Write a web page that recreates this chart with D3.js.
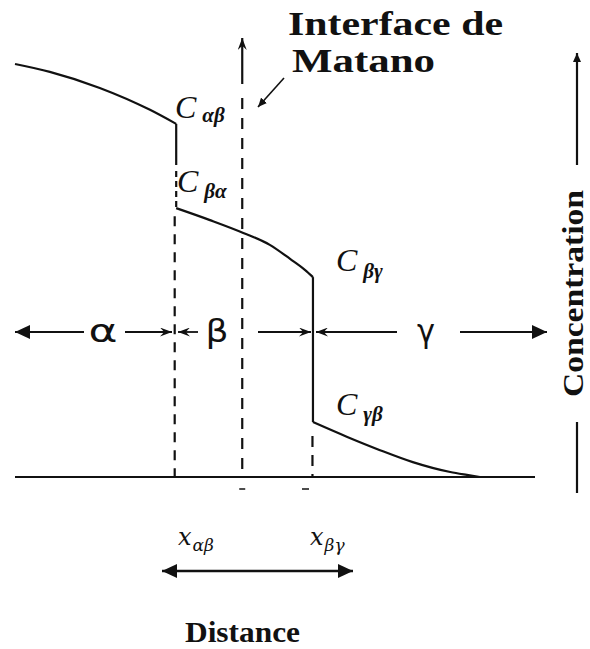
<!DOCTYPE html>
<html>
<head>
<meta charset="utf-8">
<script src="https://cdn.jsdelivr.net/npm/d3@7"></script>
<style>
  body { margin: 0; background: #fff; }
  svg { display: block; }
</style>
</head>
<body>
<svg id="chart" width="590" height="649"></svg>
<script>
// Concentration profile across the α / β / γ phases (distance on x, concentration on y)
const alphaX = [0, 6.7, 16.3, 25.96, 31];
const alphaC = [100, 98.1, 94.2, 88.9, 85.5];
const betaX = [31, 37.5, 43.9, 49, 52.9, 55.8, 57.3];
const betaC = [65.1, 62.2, 59.1, 56.2, 52.8, 50.1, 48.4];
const gammaX = [57.3, 63.9, 70.2, 76.5, 83.7, 86.9, 89.4];
const gammaC = [13.3, 9.7, 6.5, 3.6, 1.2, 0.5, 0];
const matanoX = 43.7;
const phaseNames = ["α", "β", "γ"];
const interfaceNames = ["x", "x"];
const interfaceSubs = ["αβ", "βγ"];

const svg = d3.select("#chart");
const ink = "#111";

const x = d3.scaleLinear().domain([0, 100]).range([15, 535]);
const y = d3.scaleLinear().domain([0, 100]).range([477, 64]);

const defs = svg.append("defs");
function marker(id, w, h, open) {
  const m = defs.append("marker")
    .attr("id", id)
    .attr("viewBox", `0 0 ${w} ${h}`)
    .attr("refX", w).attr("refY", h / 2)
    .attr("markerWidth", w).attr("markerHeight", h)
    .attr("markerUnits", "userSpaceOnUse")
    .attr("orient", "auto-start-reverse");
  const p = open
    ? `M0,0 L${w},${h / 2} L0,${h} L${w * 0.35},${h / 2} Z`
    : `M0,0 L${w},${h / 2} L0,${h} Z`;
  m.append("path").attr("d", p).attr("fill", ink);
}
marker("ah", 12, 9, true);
marker("ahBig", 15, 14, false);
marker("ahSmall", 9, 8, false);

const toPts = (xs, cs) => xs.map((v, i) => [x(v), y(cs[i])]);
const line = d3.line().curve(d3.curveMonotoneX);

const g = svg.append("g").attr("fill", "none").attr("stroke", ink).attr("stroke-width", 2.2);

// baseline (distance axis)
g.append("line").attr("x1", x(0)).attr("x2", x(100)).attr("y1", y(0)).attr("y2", y(0));

// phase curves
[[alphaX, alphaC], [betaX, betaC], [gammaX, gammaC]].forEach(([xs, cs]) => {
  g.append("path").attr("d", line(toPts(xs, cs)));
});

// concentration jumps at the α/β and β/γ interfaces
const xab = alphaX[alphaX.length - 1];
const xbg = betaX[betaX.length - 1];
const cab = alphaC[alphaC.length - 1];
const cba = betaC[0];
const cbg = betaC[betaC.length - 1];
const cgb = gammaC[0];

// α/β: solid upper part, then dash-dot towards C_βα, then dashed to the baseline
const abSolidEnd = 165;
g.append("line").attr("x1", x(xab)).attr("x2", x(xab)).attr("y1", y(cab)).attr("y2", abSolidEnd);
g.append("line").attr("x1", x(xab)).attr("x2", x(xab)).attr("y1", abSolidEnd + 6).attr("y2", y(cba))
  .attr("stroke-dasharray", "6,4");
g.append("line").attr("x1", x(xab) - 1.5).attr("x2", x(xab) - 1.5).attr("y1", y(cba) + 8).attr("y2", y(0))
  .attr("stroke-dasharray", "10,8");

// β/γ: solid jump, dashed to baseline
g.append("line").attr("x1", x(xbg)).attr("x2", x(xbg)).attr("y1", y(cbg)).attr("y2", y(cgb));
g.append("line").attr("x1", x(xbg) - 0.5).attr("x2", x(xbg) - 0.5).attr("y1", y(cgb) + 14).attr("y2", y(0))
  .attr("stroke-dasharray", "11,8");

// Matano interface: arrow at the top then dashed line down
g.append("line").attr("x1", x(matanoX)).attr("x2", x(matanoX)).attr("y1", 84).attr("y2", 38)
  .attr("marker-end", "url(#ah)");
g.append("line").attr("x1", x(matanoX)).attr("x2", x(matanoX)).attr("y1", 98).attr("y2", y(0))
  .attr("stroke-dasharray", "11,9");

// pointer from the caption to the Matano line
g.append("line").attr("x1", 284).attr("y1", 78).attr("x2", 258).attr("y2", 107)
  .attr("stroke-width", 1.6).attr("marker-end", "url(#ahSmall)");

// small marks under the baseline
g.append("line").attr("x1", x(matanoX) - 3).attr("x2", x(matanoX) + 3).attr("y1", 489).attr("y2", 489).attr("stroke-width", 1.5);
g.append("line").attr("x1", 302).attr("x2", 309).attr("y1", 489).attr("y2", 489).attr("stroke-width", 1.5);

// phase span arrows
const rowY = 332;
const spans = [
  [84, 15, "ahBig"], [125, 172, "ah"], [198, 178, "ah"],
  [258, 311, "ah"], [397, 316, "ah"], [460, 547, "ahBig"]
];
spans.forEach(([a, b, m]) => {
  g.append("line").attr("x1", a).attr("x2", b).attr("y1", rowY).attr("y2", rowY)
    .attr("stroke-width", 1.8).attr("marker-end", `url(#${m})`);
});

const txt = svg.append("g").attr("fill", ink);
const phasePos = [[103, 29], [217, 23], [426, 18]];
phaseNames.forEach((p, i) => {
  txt.append("text").attr("x", phasePos[i][0]).attr("y", 342)
    .attr("text-anchor", "middle")
    .attr("font-family", "'DejaVu Sans', sans-serif").attr("font-size", 32)
    .attr("textLength", phasePos[i][1]).attr("lengthAdjust", "spacingAndGlyphs")
    .text(p);
});

// concentration labels
function cLabel(px, py, sub, dx, dy) {
  const t = txt.append("text").attr("x", px).attr("y", py)
    .attr("font-family", "'Liberation Serif', 'Times New Roman', serif");
  t.append("tspan").attr("font-style", "italic").attr("font-size", 32).text("C");
  t.append("tspan").attr("dx", dx).attr("dy", dy)
    .attr("font-style", "italic").attr("font-weight", "bold").attr("font-size", 21).text(sub);
}
cLabel(175, 118, "αβ", 6, 4);
cLabel(177, 192, "βα", 6, 6);
cLabel(336, 271, "βγ", 6, 7);
cLabel(336, 415, "γβ", 6, 6);

// caption for the Matano plane
const cap = txt.append("g").attr("font-family", "'Liberation Serif', 'Times New Roman', serif")
  .attr("font-weight", "bold").attr("font-size", 33);
cap.append("text").attr("x", 288).attr("y", 35)
  .attr("textLength", 215).attr("lengthAdjust", "spacingAndGlyphs").text("Interface de");
cap.append("text").attr("x", 292).attr("y", 72)
  .attr("textLength", 143).attr("lengthAdjust", "spacingAndGlyphs").text("Matano");

// concentration axis title with arrow
g.append("line").attr("x1", 577).attr("x2", 577).attr("y1", 165).attr("y2", 53)
  .attr("marker-end", "url(#ahSmall)");
g.append("line").attr("x1", 577).attr("x2", 577).attr("y1", 422).attr("y2", 493);
txt.append("text")
  .attr("transform", "translate(583,293.5) rotate(-90)")
  .attr("text-anchor", "middle")
  .attr("font-family", "'Liberation Serif', 'Times New Roman', serif")
  .attr("font-weight", "bold").attr("font-size", 30)
  .attr("textLength", 207).attr("lengthAdjust", "spacingAndGlyphs")
  .text("Concentration");

// interface positions on the distance axis
const ifX = [178, 310];
interfaceNames.forEach((n, i) => {
  const t = txt.append("text").attr("x", ifX[i]).attr("y", 545)
    .attr("font-family", "'DejaVu Serif', 'Liberation Serif', serif").attr("font-style", "italic");
  t.append("tspan").attr("font-size", 24).text(n);
  t.append("tspan").attr("dx", 1).attr("dy", 6).attr("font-size", 17).text(interfaceSubs[i]);
});
g.append("line").attr("x1", 240).attr("x2", 162).attr("y1", 571).attr("y2", 571)
  .attr("stroke-width", 2.5).attr("marker-end", "url(#ahBig)");
g.append("line").attr("x1", 240).attr("x2", 353).attr("y1", 571).attr("y2", 571)
  .attr("stroke-width", 2.5).attr("marker-end", "url(#ahBig)");

txt.append("text").attr("x", 242.5).attr("y", 642).attr("text-anchor", "middle")
  .attr("font-family", "'Liberation Serif', 'Times New Roman', serif")
  .attr("font-weight", "bold").attr("font-size", 30)
  .attr("textLength", 115).attr("lengthAdjust", "spacingAndGlyphs")
  .text("Distance");
</script>
</body>
</html>
